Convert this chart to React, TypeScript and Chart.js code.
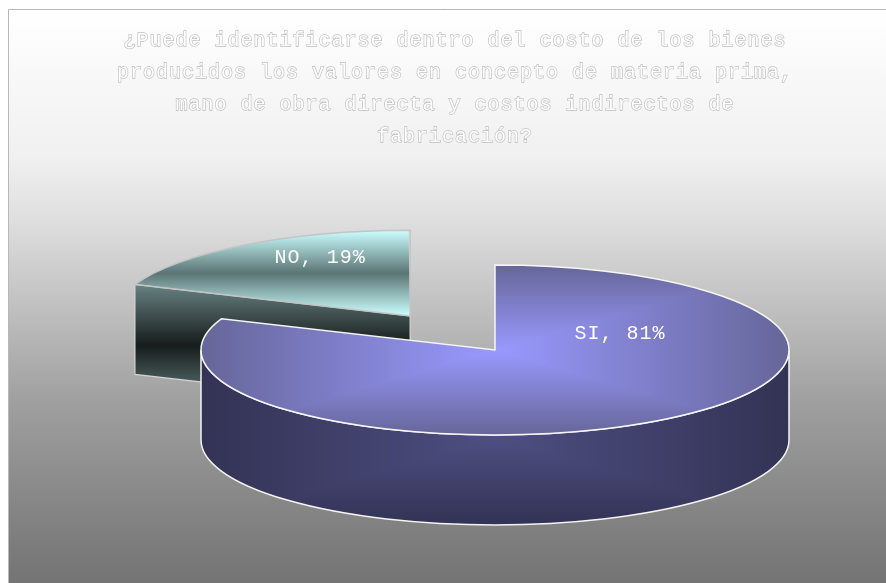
import React, { useEffect, useRef } from "react";
import { Chart, registerables } from "chart.js";

Chart.register(...registerables);

const labels = ["NO", "SI"];
const values = [19, 81];
const titleLines = [
  "¿Puede identificarse dentro del costo de los bienes",
  "producidos los valores en concepto de materia prima,",
  "mano de obra directa y costos indirectos de",
  "fabricación?",
];

const WIDTH = 878;
const HEIGHT = 574;
const RADII = [296, 294];
const TILT = 0.289;
const DEPTH = 90;
const EXPLODE = [604, 0];
const SLICE_DROP = [2, 0];
const CENTER = { x: 487, y: 341 };
const FONT = '"Liberation Mono", "DejaVu Sans Mono", monospace';
const LABEL_OFFSETS = [
  { x: -90, y: -58 },
  { x: 125, y: -16 },
];

// Screen position of a slice's apex once it has been pulled out of the pie.
function apex(arc: any, i: number) {
  const mid = (arc.startAngle + arc.endAngle) / 2;
  const d = EXPLODE[i] / 4;
  return {
    x: CENTER.x + Math.cos(mid) * d,
    y: CENTER.y + Math.sin(mid) * d * TILT + SLICE_DROP[i],
  };
}

// Rectangular "from centre" gradient: inner colour in the middle, outer colour on all four sides.
function pathGradient(
  ctx: CanvasRenderingContext2D,
  halfW: number,
  halfH: number,
  inner: number[],
  outer: number[],
  left: number,
  top: number,
) {
  const w = Math.ceil(halfW * 2);
  const h = Math.ceil(halfH * 2);
  const tile = document.createElement("canvas");
  tile.width = w;
  tile.height = h;
  const tileCtx = tile.getContext("2d")!;
  const img = tileCtx.createImageData(w, h);
  for (let y = 0; y < h; y++) {
    for (let x = 0; x < w; x++) {
      const t = Math.min(1, Math.max(Math.abs(x + 0.5 - halfW) / halfW, Math.abs(y + 0.5 - halfH) / halfH));
      const p = (y * w + x) * 4;
      img.data[p] = inner[0] + (outer[0] - inner[0]) * t;
      img.data[p + 1] = inner[1] + (outer[1] - inner[1]) * t;
      img.data[p + 2] = inner[2] + (outer[2] - inner[2]) * t;
      img.data[p + 3] = 255;
    }
  }
  tileCtx.putImageData(img, 0, 0);
  const pattern = ctx.createPattern(tile, "no-repeat")!;
  pattern.setTransform(new DOMMatrix().translate(left, top));
  return pattern;
}

function drawBackground(chart: any) {
  const { ctx } = chart;
  const g = ctx.createLinearGradient(0, 0, 0, HEIGHT);
  g.addColorStop(0, "#ffffff");
  g.addColorStop(0.26, "#f0f0f0");
  g.addColorStop(0.37, "#dedede");
  g.addColorStop(0.68, "#a0a0a0");
  g.addColorStop(0.92, "#7e7e7e");
  g.addColorStop(1, "#747474");
  ctx.fillStyle = g;
  ctx.fillRect(0, 0, WIDTH, HEIGHT);
  ctx.strokeStyle = "#b8b8b8";
  ctx.lineWidth = 1;
  ctx.beginPath();
  ctx.moveTo(0.5, HEIGHT);
  ctx.lineTo(0.5, 0.5);
  ctx.lineTo(WIDTH, 0.5);
  ctx.stroke();
}

function drawTitleOutline(chart: any) {
  const { ctx } = chart;
  const box = chart.titleBlock;
  const opts = chart.options.plugins.title;
  const lh = opts.font.lineHeight * opts.font.size;
  const cx = (box.left + box.right) / 2;
  ctx.save();
  ctx.font = `${opts.font.size}px ${opts.font.family}`;
  ctx.letterSpacing = "1px";
  ctx.textAlign = "center";
  ctx.textBaseline = "middle";
  ctx.strokeStyle = "rgba(180,180,180,0.85)";
  ctx.lineWidth = 1.3;
  titleLines.forEach((line, i) => {
    ctx.strokeText(line, cx, box.top + opts.padding.top + lh / 2 + i * lh);
  });
  ctx.restore();
}

// Cut face of the pulled-out slice, visible below its leading edge.
function drawCutFace(ctx: CanvasRenderingContext2D, arc: any, i: number) {
  const a = apex(arc, i);
  const ex = a.x + Math.cos(arc.startAngle) * RADII[i];
  const ey = a.y + Math.sin(arc.startAngle) * RADII[i] * TILT;
  const g = ctx.createLinearGradient(0, ey, 0, a.y + DEPTH);
  g.addColorStop(0, "#688282");
  g.addColorStop(0.5, "#171c1c");
  g.addColorStop(1, "#688282");
  ctx.beginPath();
  ctx.moveTo(a.x, a.y);
  ctx.lineTo(ex, ey);
  ctx.lineTo(ex, ey + DEPTH);
  ctx.lineTo(a.x, a.y + DEPTH);
  ctx.closePath();
  ctx.fillStyle = g;
  ctx.fill();
  ctx.strokeStyle = "#d4d4d4";
  ctx.lineWidth = 1.2;
  ctx.stroke();
}

// Front wall of the main slice: the lower half of the rim pushed down by the depth.
function drawRim(ctx: CanvasRenderingContext2D, arc: any, i: number) {
  const a = apex(arc, i);
  const r = RADII[i];
  ctx.beginPath();
  ctx.ellipse(a.x, a.y, r, r * TILT, 0, 0, Math.PI);
  ctx.ellipse(a.x, a.y + DEPTH, r, r * TILT, 0, Math.PI, 0, true);
  ctx.closePath();
  ctx.fillStyle = pathGradient(ctx, r, 87, [78, 78, 130], [51, 51, 85], a.x - r, a.y + 88 - 87);
  ctx.fill();
  ctx.strokeStyle = "#f4f4f4";
  ctx.lineWidth = 1.5;
  ctx.stroke();
}

function outlineTop(ctx: CanvasRenderingContext2D, arc: any, i: number, color: string) {
  const a = apex(arc, i);
  const r = RADII[i];
  ctx.beginPath();
  ctx.moveTo(a.x, a.y);
  ctx.ellipse(a.x, a.y, r, r * TILT, 0, arc.startAngle, arc.endAngle);
  ctx.closePath();
  ctx.strokeStyle = color;
  ctx.lineWidth = 1.5;
  ctx.stroke();
}

const tiltedPie = {
  id: "tiltedPie",
  beforeDraw(chart: any) {
    drawBackground(chart);
    drawTitleOutline(chart);
    chart.ctx.letterSpacing = "1px";
  },
  afterDatasetUpdate(chart: any) {
    // Pulling a slice out makes the library widen it a little; hold each slice at its own radius.
    const arcs = chart.getDatasetMeta(0).data;
    arcs.forEach((arc: any, i: number) => {
      const fix = 1 - Math.sin(Math.min(Math.PI, arc.circumference));
      arc.outerRadius = RADII[i] - (EXPLODE[i] / 4) * fix;
      arc.y += SLICE_DROP[i] / TILT;
    });
  },
  beforeDatasetDraw(chart: any) {
    const { ctx } = chart;
    ctx.letterSpacing = "0px";
    const area = chart.chartArea;
    const arcs = chart.getDatasetMeta(0).data;
    drawCutFace(ctx, arcs[0], 0);
    drawRim(ctx, arcs[1], 1);
    ctx.save();
    ctx.translate(CENTER.x, CENTER.y);
    ctx.scale(1, TILT);
    ctx.translate(-(area.left + area.right) / 2, -(area.top + area.bottom) / 2);
  },
  afterDatasetDraw(chart: any) {
    const { ctx } = chart;
    ctx.restore();
    const arcs = chart.getDatasetMeta(0).data;
    outlineTop(ctx, arcs[0], 0, "#c4c4c4");
    outlineTop(ctx, arcs[1], 1, "#f6f6f6");
    ctx.save();
    ctx.font = `20px ${FONT}`;
    ctx.letterSpacing = "1px";
    ctx.textAlign = "center";
    ctx.textBaseline = "middle";
    ctx.fillStyle = "#ffffff";
    arcs.forEach((arc: any, i: number) => {
      const a = apex(arc, i);
      const text = `${labels[i]}, ${values[i]}%`;
      ctx.fillText(text, a.x + LABEL_OFFSETS[i].x, a.y + LABEL_OFFSETS[i].y);
    });
    ctx.restore();
  },
};

function sliceFill(context: any) {
  const { ctx, chartArea } = context.chart;
  if (!chartArea) return "#666699";
  const cx = (chartArea.left + chartArea.right) / 2;
  const cy = (chartArea.top + chartArea.bottom) / 2;
  if (context.dataIndex === 0) {
    const g = ctx.createLinearGradient(0, cy - RADII[0] + SLICE_DROP[0] / TILT, 0, cy + SLICE_DROP[0] / TILT);
    g.addColorStop(0, "#ccffff");
    g.addColorStop(0.5, "#5b7474");
    g.addColorStop(1, "#ccffff");
    return g;
  }
  const r = RADII[1];
  return pathGradient(ctx, r, r, [153, 153, 255], [102, 102, 153], cx - r, cy - r);
}

export default function App() {
  const ref = useRef<HTMLCanvasElement>(null);

  useEffect(() => {
    const chart = new Chart(ref.current!, {
      type: "pie",
      data: {
        labels,
        datasets: [
          {
            data: values,
            backgroundColor: sliceFill,
            borderWidth: 0,
            offset: EXPLODE,
            clip: false,
          } as any,
        ],
      },
      options: {
        responsive: false,
        animation: false,
        rotation: (-values[0] / 100) * 360,
        radius: RADII[1],
        layout: { padding: { left: 16 } },
        plugins: {
          legend: { display: false },
          tooltip: { enabled: false },
          title: {
            display: true,
            text: titleLines,
            color: "#ffffff",
            font: { family: FONT, size: 20, weight: "normal", lineHeight: 32 / 20 },
            padding: { top: 16, bottom: 10 },
          },
        },
      },
      plugins: [tiltedPie],
    } as any);
    return () => chart.destroy();
  }, []);

  return (
    <canvas
      ref={ref}
      width={WIDTH}
      height={HEIGHT}
      style={{ position: "absolute", left: 8, top: 9, display: "block" }}
    />
  );
}
